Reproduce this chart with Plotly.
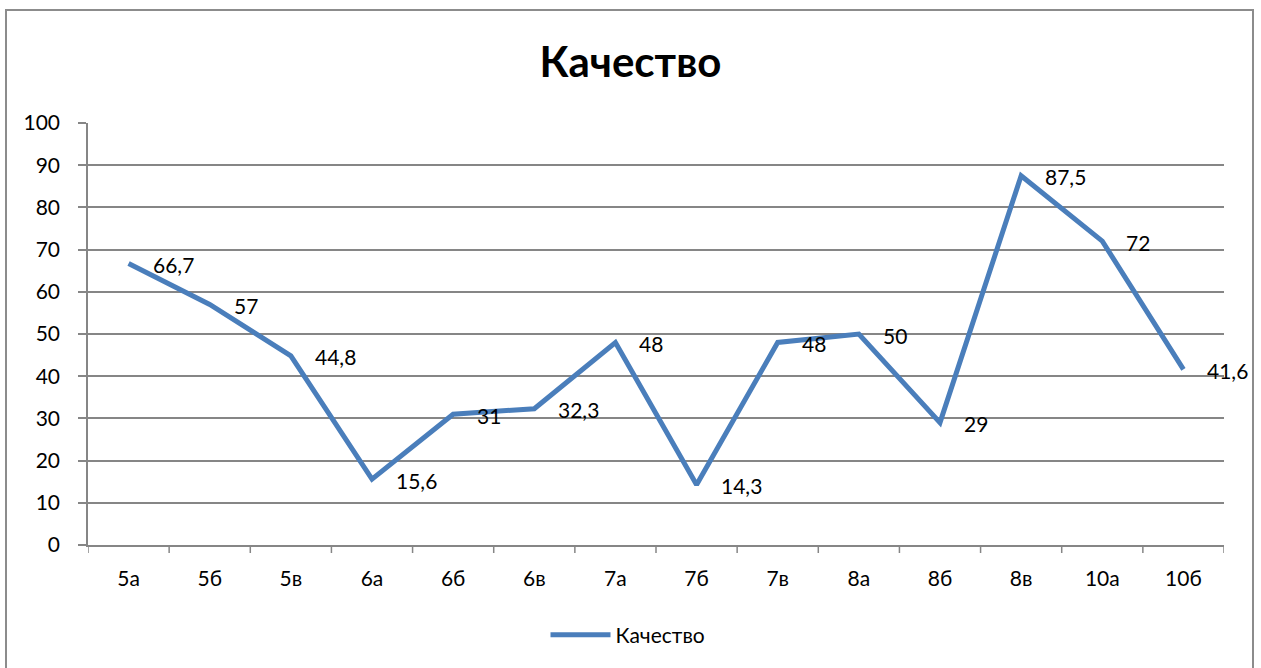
import plotly.graph_objects as go

categories = ["5а", "5б", "5в", "6а", "6б", "6в", "7а", "7б", "7в", "8а", "8б", "8в", "10а", "10б"]
values = [66.7, 57, 44.8, 15.6, 31, 32.3, 48, 14.3, 48, 50, 29, 87.5, 72, 41.6]
series_name = "Качество"
title_text = "Качество"

labels = [("%g" % v).replace(".", ",") for v in values]

W, H = 1261, 668
L, R, T, B = 88, 1224, 123, 545
pw, ph = R - L, B - T

def px2x(px):
    return (px - L) / pw

def px2y(py):
    return (B - py) / ph

font_family = "Lato, Open Sans, sans-serif"
FS = 21

fig = go.Figure()
fig.add_trace(go.Scatter(
    x=categories, y=values, mode="lines", name=series_name,
    line=dict(color="#4a7ebb", width=5),
    cliponaxis=False,
))

annotations = []
for c, v, t in zip(categories, values, labels):
    annotations.append(dict(x=c, y=v, xref="x", yref="y", text=t, showarrow=False,
                            xanchor="left", yanchor="middle", xshift=22, yshift=-1,
                            font=dict(size=FS, family=font_family, color="#000000")))

fig.update_layout(
    width=W, height=H,
    margin=dict(l=L, r=W - R, t=T, b=H - B, autoexpand=False),
    paper_bgcolor="white", plot_bgcolor="white",
    title=dict(text="<b>" + title_text + "</b>", x=0.5, xanchor="center",
               y=1 - 62 / H, yanchor="middle",
               font=dict(size=42, family=font_family, color="#000000")),
    showlegend=True,
    legend=dict(orientation="h", x=px2x(628), xanchor="center",
                y=px2y(635), yanchor="middle",
                font=dict(size=FS, family=font_family, color="#000000"),
                itemwidth=60),
    xaxis=dict(type="category", showgrid=False, showline=True,
               linecolor="#868686", linewidth=1.5, automargin=False,
               ticks="", tickfont=dict(size=FS, family=font_family, color="#000000"),
               range=[-0.5, len(categories) - 0.5], fixedrange=True,
               ticklabelstandoff=14),
    yaxis=dict(range=[0, 100], dtick=10, showgrid=True, gridcolor="#868686",
               gridwidth=1.5, showline=True, linecolor="#868686", linewidth=1.5,
               ticks="outside", ticklen=8, tickcolor="#868686", tickwidth=1.5,
               zeroline=False, automargin=False,
               tickfont=dict(size=FS, family=font_family, color="#000000"),
               ticklabelstandoff=14),
    annotations=annotations,
)

shapes = []
# x-axis tick marks at category boundaries
for i in range(len(categories) + 1):
    shapes.append(dict(type="line", xref="x", yref="paper",
                       x0=i - 0.5, x1=i - 0.5, y0=0, y1=-8 / ph,
                       line=dict(color="#868686", width=1.5)))
# outer chart border
shapes.append(dict(type="rect", xref="paper", yref="paper",
                   x0=px2x(6), x1=px2x(1253), y0=px2y(700), y1=px2y(10),
                   line=dict(color="#8c8c8c", width=2), fillcolor="rgba(0,0,0,0)",
                   layer="below"))
fig.update_layout(shapes=shapes)

fig.write_html("out.html", config={"displayModeBar": False},
               post_script="document.body.style.margin='0';")
